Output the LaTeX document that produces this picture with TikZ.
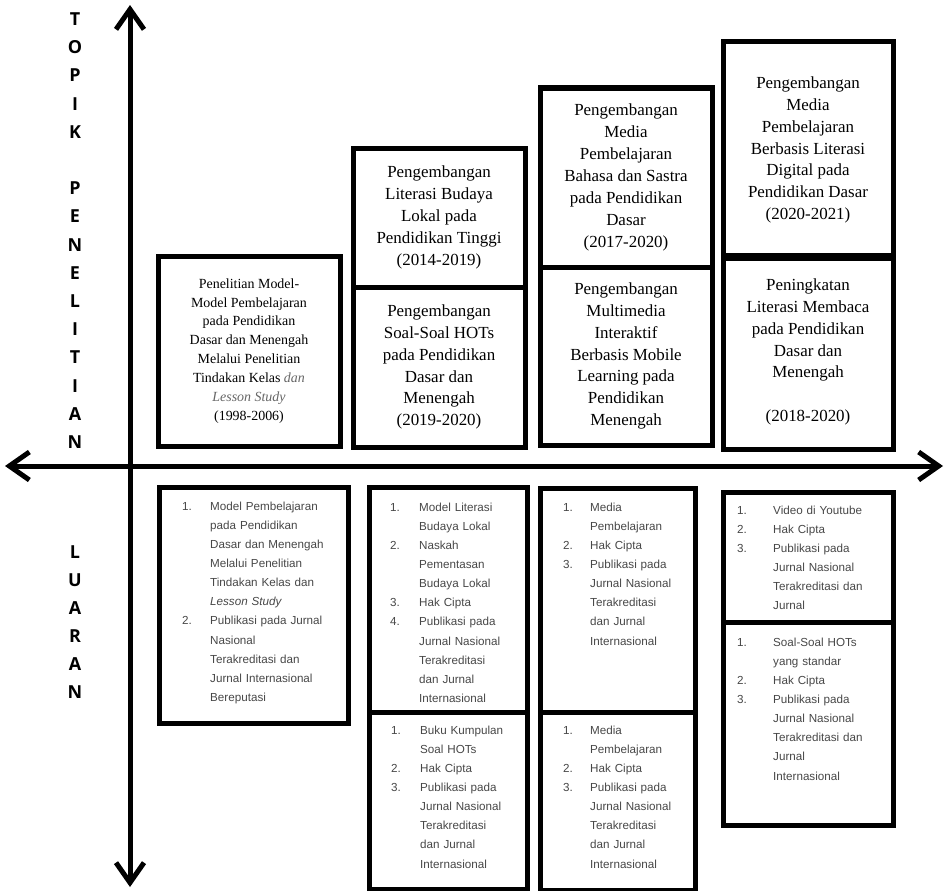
\documentclass[tikz,border=0pt]{standalone}
\usepackage{fontspec}
\setmainfont{Liberation Serif}
\setsansfont{Liberation Sans}
\newfontfamily\axisfont{Open Sans}
\usetikzlibrary{arrows.meta}
\usepackage{xcolor}
\newlength{\numw}
\newcommand{\lu}[2]{\hangindent=\numw\hangafter=1\noindent\makebox[\numw][l]{#1}{\let\\\newline #2}\par}

\begin{document}
\begin{tikzpicture}
    \tikzset{
        x={(1bp,0bp)},
        y={(0bp,-1bp)},
        axis/.style={line width=5bp,
            {Straight Barb[length=20bp,width=28bp]}-{Straight Barb[length=20bp,width=28bp]}},
        topik/.style={draw,line width=5bp,align=center,inner sep=0pt,text=black,
            font=\fontsize{17}{22}\selectfont},
        luaran/.style={draw,line width=5bp,inner sep=0pt},
        lulist/.style={anchor=north west,inner sep=0pt,align=left,text=black!72,
            font=\sffamily\fontsize{11.7}{19.2}\selectfont},
        huruf/.style={font=\axisfont\bfseries\fontsize{18}{18}\selectfont,inner sep=0pt}
    }
    \useasboundingbox (0,0) rectangle (944,891);
    % axes
    \coordinate (ytop) at (130,5);
    \coordinate (ybot) at (130,887);
    \coordinate (xkiri) at (5,466);
    \coordinate (xkanan) at (943,466);
    \draw[axis] (ybot) -- (ytop);
    \draw[axis] (xkiri) -- (xkanan);
    % axis letters
    \foreach \h/\k in {T/0,O/1,P/2,I/3,K/4,P/6,E/7,N/8,E/9,L/10,I/11,T/12,I/13,A/14,N/15}
        \node[huruf] (topik\k) at (75,{19+28.2*\k}) {\h};
    \foreach \h/\k in {L/0,U/1,A/2,R/3,A/4,N/5}
        \node[huruf] (luaran\k) at (75,{552+28*\k}) {\h};
    % topik penelitian
    \node[topik,minimum width=182bp,minimum height=190bp,
        font=\fontsize{14}{19}\selectfont] (t1) at (249,351)
        {Penelitian Model-\\Model Pembelajaran\\pada Pendidikan\\Dasar dan Menengah\\
         Melalui Penelitian\\Tindakan Kelas {\color{black!60}\textit{dan}}\\
         {\color{black!60}\textit{Lesson Study}}\\(1998-2006)};
    \node[topik,minimum width=172bp,minimum height=139bp] (t2a) at (439,217.5)
        {Pengembangan\\Literasi Budaya\\Lokal pada\\Pendidikan Tinggi\\(2014-2019)};
    \node[topik,minimum width=172bp,minimum height=160bp] (t2b) at (439,367)
        {Pengembangan\\Soal-Soal HOTs\\pada Pendidikan\\Dasar dan\\Menengah\\(2019-2020)};
    \node[topik,minimum width=172bp,minimum height=179bp] (t3a) at (626,177.5)
        {Pengembangan\\Media\\Pembelajaran\\Bahasa dan Sastra\\pada Pendidikan\\Dasar\\(2017-2020)};
    \node[topik,minimum width=172bp,minimum height=178bp] (t3b) at (626,356)
        {Pengembangan\\Multimedia\\Interaktif\\Berbasis Mobile\\Learning pada\\Pendidikan\\Menengah};
    \node[topik,minimum width=170bp,minimum height=216bp] (t4a) at (808,150)
        {Pengembangan\\Media\\Pembelajaran\\Berbasis Literasi\\Digital pada\\Pendidikan Dasar\\(2020-2021)};
    \node[topik,minimum width=170bp,minimum height=194bp] (t4b) at (808,352)
        {Peningkatan\\Literasi Membaca\\pada Pendidikan\\Dasar dan\\Menengah\\[22bp](2018-2020)};
    % luaran
    \node[lulist,text width=160bp] (l1) at (182,501.5)
        {\setlength\numw{28bp}%
         \lu{1.}{Model Pembelajaran\\pada Pendidikan\\Dasar dan Menengah\\Melalui Penelitian\\
            Tindakan Kelas dan\\\textit{Lesson Study}}%
         \lu{2.}{Publikasi pada Jurnal\\Nasional\\Terakreditasi dan\\Jurnal Internasional\\Bereputasi}};
    \node[lulist,text width=135bp] (l2a) at (390,502.5)
        {\setlength\numw{29bp}%
         \lu{1.}{Model Literasi\\Budaya Lokal}%
         \lu{2.}{Naskah\\Pementasan\\Budaya Lokal}%
         \lu{3.}{Hak Cipta}%
         \lu{4.}{Publikasi pada\\Jurnal Nasional\\Terakreditasi\\dan Jurnal\\Internasional}};
    \node[lulist,text width=135bp] (l2b) at (391,725.5)
        {\setlength\numw{29bp}%
         \lu{1.}{Buku Kumpulan\\Soal HOTs}%
         \lu{2.}{Hak Cipta}%
         \lu{3.}{Publikasi pada\\Jurnal Nasional\\Terakreditasi\\dan Jurnal\\Internasional}};
    \node[lulist,text width=130bp] (l3a) at (563,502.5)
        {\setlength\numw{27bp}%
         \lu{1.}{Media\\Pembelajaran}%
         \lu{2.}{Hak Cipta}%
         \lu{3.}{Publikasi pada\\Jurnal Nasional\\Terakreditasi\\dan Jurnal\\Internasional}};
    \node[lulist,text width=130bp] (l3b) at (563,725.5)
        {\setlength\numw{27bp}%
         \lu{1.}{Media\\Pembelajaran}%
         \lu{2.}{Hak Cipta}%
         \lu{3.}{Publikasi pada\\Jurnal Nasional\\Terakreditasi\\dan Jurnal\\Internasional}};
    \node[lulist,text width=150bp] (l4a) at (737,505.5)
        {\setlength\numw{36bp}%
         \lu{1.}{Video di Youtube}%
         \lu{2.}{Hak Cipta}%
         \lu{3.}{Publikasi pada\\Jurnal Nasional\\Terakreditasi dan\\Jurnal}};
    \node[lulist,text width=150bp] (l4b) at (737,637.5)
        {\setlength\numw{36bp}%
         \lu{1.}{Soal-Soal HOTs\\yang standar}%
         \lu{2.}{Hak Cipta}%
         \lu{3.}{Publikasi pada\\Jurnal Nasional\\Terakreditasi dan\\Jurnal\\Internasional}};
    % luaran boxes
    \node[luaran,minimum width=189bp,minimum height=236bp] (b1) at (253.5,605) {};
    \node[luaran,minimum width=158bp,minimum height=225bp] (b2a) at (448,599.5) {};
    \node[luaran,minimum width=158bp,minimum height=177bp] (b2b) at (448,800.5) {};
    \node[luaran,minimum width=155bp,minimum height=224bp] (b3a) at (617.5,600) {};
    \node[luaran,minimum width=155bp,minimum height=178bp] (b3b) at (617.5,801) {};
    \node[luaran,minimum width=170bp,minimum height=130bp] (b4a) at (808,557) {};
    \node[luaran,minimum width=170bp,minimum height=203bp] (b4b) at (808,723.5) {};
\end{tikzpicture}
\end{document}
